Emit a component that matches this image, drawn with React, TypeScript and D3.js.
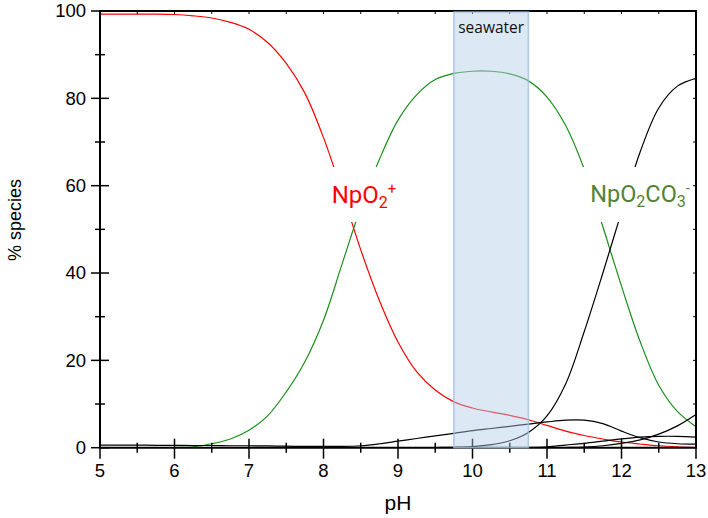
import React from 'react';
import * as d3 from 'd3';

const pH = [5, 5.25, 5.5, 5.75, 6, 6.25, 6.5, 6.75, 7, 7.25, 7.5, 7.75, 8, 8.25, 8.5, 8.75, 9, 9.25, 9.5, 9.75, 10, 10.25, 10.5, 10.75, 11, 11.25, 11.5, 11.75, 12, 12.25, 12.5, 12.75, 13];

const npo2 = [99.3, 99.3, 99.3, 99.3, 99.2, 98.9, 98.4, 97.4, 95.8, 92.8, 88.0, 81.2, 71.0, 58.5, 45.3, 33.7, 24.2, 17.4, 13.2, 10.5, 9.1, 8.2, 7.4, 6.4, 5.1, 3.8, 2.8, 2.0, 1.3, 0.85, 0.45, 0.2, 0.05];
const npo2co3 = [0, 0, 0, 0, 0.05, 0.2, 0.9, 2.0, 4.0, 7.3, 12.8, 19.7, 29.2, 42.1, 55.0, 66.0, 75.0, 80.8, 84.3, 85.7, 86.2, 86.2, 85.6, 84.0, 80.3, 73.8, 63.8, 50.6, 37.0, 24.3, 14.3, 8.3, 4.8];
const npo2co3_2 = [0, 0, 0, 0, 0, 0, 0, 0, 0, 0, 0, 0, 0, 0, 0, 0, 0, 0, 0.05, 0.1, 0.25, 0.7, 1.6, 3.5, 7.3, 14.6, 26.6, 40.0, 54.0, 67.7, 77.8, 82.8, 84.6];
const hump = [0.6, 0.6, 0.6, 0.55, 0.55, 0.5, 0.5, 0.45, 0.45, 0.4, 0.35, 0.3, 0.3, 0.3, 0.45, 0.9, 1.5, 2.1, 2.7, 3.3, 3.9, 4.4, 4.9, 5.4, 5.9, 6.3, 6.3, 5.5, 3.8, 2.3, 1.3, 0.9, 0.8];
const rising = [0, 0, 0, 0, 0, 0, 0, 0, 0, 0, 0, 0, 0, 0, 0, 0, 0, 0, 0, 0, 0, 0, 0, 0, 0, 0.05, 0.15, 0.45, 1.0, 1.8, 3.1, 5.0, 7.6];
const plateau = [0, 0, 0, 0, 0, 0, 0, 0, 0, 0, 0, 0, 0, 0, 0, 0, 0, 0, 0, 0, 0, 0, 0, 0.05, 0.2, 0.6, 1.0, 1.5, 2.0, 2.4, 2.6, 2.6, 2.4];

const xMajor = [5, 6, 7, 8, 9, 10, 11, 12, 13];
const xMinor = [5.5, 6.5, 7.5, 8.5, 9.5, 10.5, 11.5, 12.5];
const yMajor = [0, 20, 40, 60, 80, 100];
const yMinor = [10, 30, 50, 70, 90];
const seawater = [9.75, 10.75];

const W = 708, H = 518;
const x = d3.scaleLinear().domain([5, 13]).range([100, 696]);
const y = d3.scaleLinear().domain([0, 100]).range([447.7, 11]);

const line = (vals: number[]) =>
  d3.line<number>().x((_, i) => x(pH[i])).y((d) => y(d)).curve(d3.curveCatmullRom.alpha(0.5))(vals) || '';

export default function App() {
  const series = [
    { v: npo2, c: '#ff0000' },
    { v: npo2co3, c: '#1b8f1b' },
    { v: npo2co3_2, c: '#000000' },
    { v: hump, c: '#000000' },
    { v: rising, c: '#000000' },
    { v: plateau, c: '#000000' },
  ];
  const x0 = x(5), x1 = x(13), y0 = y(0), y1 = y(100);
  const font = 'Liberation Sans, Arial, sans-serif';
  return (
    <svg width={W} height={H} style={{ position: 'absolute', left: 0, top: 0, background: '#fff' }}>
      <defs>
        <clipPath id="plot">
          <rect x={x0} y={y1} width={x1 - x0} height={y0 - y1} />
        </clipPath>
      </defs>
      <g clipPath="url(#plot)">
        {series.map((s, i) => (
          <path key={i} d={line(s.v)} fill="none" stroke={s.c} strokeWidth={1.2} />
        ))}
        <rect x={324} y={167} width={78} height={55} fill="#fff" />
        <rect x={583} y={167} width={110} height={55} fill="#fff" />
      </g>
      <text x={x(8.11)} y={y(56)} fill="#ff0000" fontFamily="Roboto, sans-serif" fontSize={24}>
        NpO<tspan fontSize={16} dy={5}>2</tspan><tspan fontSize={15} dy={-14}>+</tspan>
      </text>
      <text x={x(11.58)} y={y(56.3)} fill="#548235" fontFamily="Roboto, sans-serif" fontSize={23.5}>
        NpO<tspan fontSize={16} dy={5}>2</tspan><tspan dy={-5}>CO</tspan><tspan fontSize={16} dy={5}>3</tspan><tspan fontSize={15} dy={-14}>-</tspan>
      </text>
      <g stroke="#000" fill="none">
        <line x1={x0} x2={x1} y1={y0} y2={y0} strokeWidth={2} />
        <line x1={x0} x2={x1} y1={y1} y2={y1} strokeWidth={2} />
        <line x1={x0} x2={x0} y1={y1 - 1} y2={y0 + 1} strokeWidth={2} />
        <line x1={x1} x2={x1} y1={y1 - 1} y2={y0 + 1} strokeWidth={2} />
        {xMajor.map((t) => (
          <line key={'xM' + t} x1={x(t)} x2={x(t)} y1={y0 - 9} y2={y0 + 11} strokeWidth={1.5} />
        ))}
        {xMinor.map((t) => (
          <line key={'xm' + t} x1={x(t)} x2={x(t)} y1={y0 - 5} y2={y0 + 5} strokeWidth={1.5} />
        ))}
        {[...xMajor, ...xMinor].map((t) => (
          <line key={'xt' + t} x1={x(t)} x2={x(t)} y1={y1} y2={y1 + 3} strokeWidth={1} />
        ))}
        {yMajor.map((t) => (
          <line key={'yM' + t} x1={x0 - 9} x2={x0 + 9} y1={y(t)} y2={y(t)} strokeWidth={1.5} />
        ))}
        {yMinor.map((t) => (
          <line key={'ym' + t} x1={x0 - 5} x2={x0 + 5} y1={y(t)} y2={y(t)} strokeWidth={1.5} />
        ))}
        {[...yMajor, ...yMinor].map((t) => (
          <line key={'yr' + t} x1={x1 - 3} x2={x1} y1={y(t)} y2={y(t)} strokeWidth={1} />
        ))}
      </g>
      <rect
        x={x(seawater[0])}
        y={y1 + 1}
        width={x(seawater[1]) - x(seawater[0])}
        height={y0 - y1 - 1}
        fill="#b4cce9"
        fillOpacity={0.45}
        stroke="#9dbde0"
        strokeOpacity={0.8}
        strokeWidth={1.5}
      />
      <text x={(x(seawater[0]) + x(seawater[1])) / 2} y={32.5} textAnchor="middle" fontFamily="Open Sans, sans-serif" fontSize={15.5} fill="#111">
        seawater
      </text>
      <g fontFamily={font} fontSize={18.5} fill="#000">
        {xMajor.map((t) => (
          <text key={'xl' + t} x={x(t)} y={477} textAnchor="middle">{t}</text>
        ))}
        {yMajor.map((t) => (
          <text key={'yl' + t} x={86} y={y(t)} dy="0.35em" textAnchor="end">{t}</text>
        ))}
      </g>
      <text x={(x0 + x1) / 2} y={510} textAnchor="middle" fontFamily={font} fontSize={21}>pH</text>
      <text transform={`translate(21,220) rotate(-90)`} textAnchor="middle" fontFamily={font} fontSize={18}>% species</text>
    </svg>
  );
}
